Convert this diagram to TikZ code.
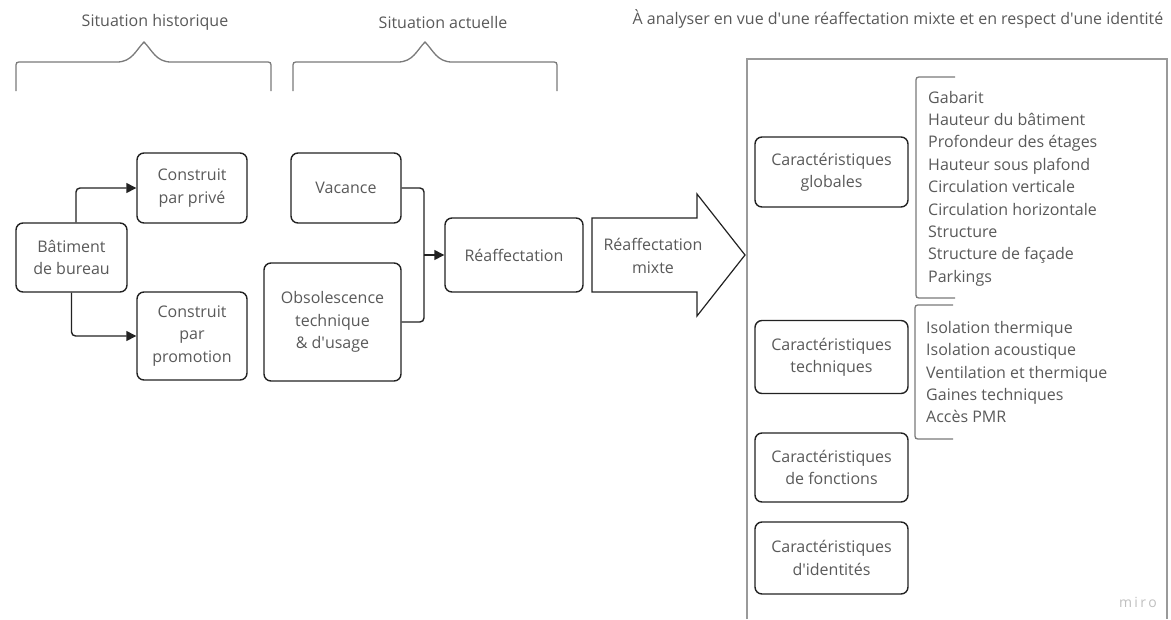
\documentclass[tikz,border=0pt]{standalone}
\usepackage{fontspec}
\setmainfont{Open Sans}
\usetikzlibrary{arrows.meta}
\definecolor{txtgray}{HTML}{595959}
\definecolor{linedark}{HTML}{222222}
\definecolor{bracegray}{HTML}{7A7A7A}
\definecolor{panelgray}{HTML}{9A9A9A}
\newcommand{\apos}{\textquotesingle}
\tikzset{
  box/.style={draw=linedark, line width=1.4pt, rounded corners=7pt, align=center,
    text=txtgray, inner sep=0pt},
  link/.style={draw=linedark, line width=1.4pt, rounded corners=4pt},
  arr/.style={link, -{Triangle[length=10pt,width=10pt]}},
  brace/.style={draw=bracegray, line width=1.3pt},
  listtext/.style={anchor=west, align=left, text=txtgray, inner sep=0pt},
  head/.style={text=txtgray, inner sep=0pt}
}
\begin{document}
\begin{tikzpicture}[x=1pt,y=-1pt,font=\fontsize{16}{22.4}\selectfont]
\useasboundingbox (0,0) rectangle (1171,619);

% titres
\node[head] (hist) at (155,22) {Situation historique};
\node[head] (actu) at (443,22) {Situation actuelle};
\node[head] (anal) at (898,19) {À analyser en vue d\apos une réaffectation mixte et en respect d\apos une identité};

% accolades
\foreach \l/\m/\r in {16/144/271, 293/425/557}
  \draw[brace] (\l,91) -- (\l,68) .. controls (\l,62) .. (\l+6,62) -- (\m-27,62)
    .. controls (\m-12,62) and (\m-8,50) .. (\m,42)
    .. controls (\m+8,50) and (\m+12,62) .. (\m+27,62) -- (\r-6,62)
    .. controls (\r,62) .. (\r,68) -- (\r,91);

% situation historique
\node[box, minimum width=111, minimum height=69] (bat) at (71.5,257.5) {Bâtiment\\de bureau};
\node[box, minimum width=110, minimum height=70] (prive) at (192,188) {Construit\\par privé};
\node[box, minimum width=110, minimum height=88] (promo) at (192,336) {Construit\\par\\promotion};

\draw[arr] ([xshift=4.5pt]bat.north) |- (prive.west);
\draw[arr] (bat.south) |- (promo.west);

% situation actuelle
\node[box, minimum width=110, minimum height=70] (vac) at (346,188) {Vacance};
\node[box, minimum width=137, minimum height=118] (obso) at (332.5,322) {Obsolescence\\technique\\\& d\apos usage};
\node[box, minimum width=138, minimum height=74] (reaf) at (514,255) {Réaffectation};

\coordinate (jn) at (424,255);
\draw[link] (vac.east) -| (jn);
\draw[link] (obso.east) -| (jn);
\draw[arr] (jn) -- (reaf.west);

% grande fleche
\draw[draw=linedark, line width=1.2pt, line join=miter] (592,218) -- (697,218) -- (697,194) -- (745,255)
  -- (697,316) -- (697,292) -- (592,292) -- cycle;
\node[head, align=center] (mixte) at (653,256) {Réaffectation\\mixte};

% cadre d'analyse
\draw[draw=panelgray, line width=1.5pt] (747,619) -- (747,59) -- (1167,59) -- (1167,619);

\node[box, minimum width=153, minimum height=70] (glob) at (831.5,172) {Caractéristiques\\globales};
\node[box, minimum width=153, minimum height=73] (tech) at (831.5,357) {Caractéristiques\\techniques};
\node[box, minimum width=153, minimum height=69] (fonc) at (831.5,467.5) {Caractéristiques\\de fonctions};
\node[box, minimum width=153, minimum height=72] (iden) at (831.5,558) {Caractéristiques\\d\apos identités};

% listes
\draw[brace] (955,77) -- (922,77) .. controls (916,77) .. (916,83) -- (916,292)
  .. controls (916,298) .. (922,298) -- (955,298);
\node[listtext] (lglob) at (928,188.5) {Gabarit\\Hauteur du bâtiment\\Profondeur des étages\\Hauteur sous plafond\\Circulation verticale\\Circulation horizontale\\Structure\\Structure de façade\\Parkings};

\draw[brace] (953,305) -- (921,305) .. controls (915,305) .. (915,311) -- (915,433)
  .. controls (915,439) .. (921,439) -- (953,439);
\node[listtext] (ltech) at (926,372) {Isolation thermique\\Isolation acoustique\\Ventilation et thermique\\Gaines techniques\\Accès PMR};

\node[text=black!25, inner sep=0pt, font=\fontsize{14}{16}\selectfont] (miro) at (1138,602) {m\,i\,r\,o};
\end{tikzpicture}
\end{document}
